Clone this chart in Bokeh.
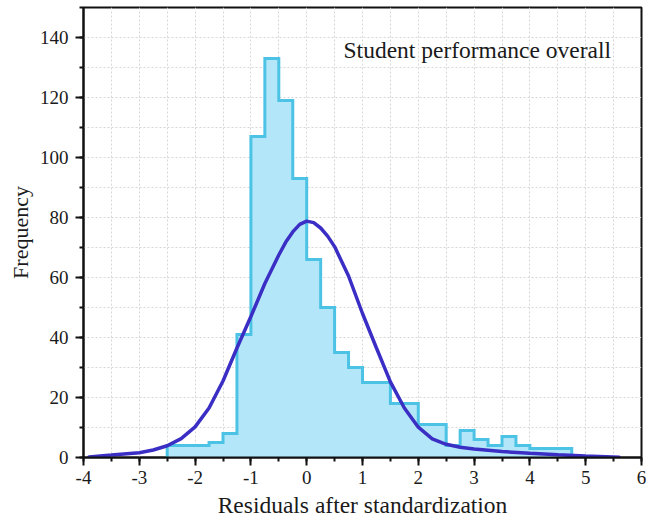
from bokeh.plotting import figure
from bokeh.models import SingleIntervalTicker, Label, Range1d, CustomJSTickFormatter, Title
from bokeh.embed import file_html
from bokeh.resources import INLINE

# Histogram bins (left edges, width 0.25) and counts
bin_left = [-2.5, -2.25, -2.0, -1.75, -1.5, -1.25, -1.0, -0.75, -0.5, -0.25,
            0.0, 0.25, 0.5, 0.75, 1.0, 1.25, 1.5, 1.75, 2.0, 2.25,
            2.5, 2.75, 3.0, 3.25, 3.5, 3.75, 4.0, 4.25, 4.5]
bin_width = 0.25
counts = [4, 4, 4, 5, 8, 41, 107, 133, 119, 93,
          66, 50, 35, 30, 25, 25, 18, 18, 11, 11,
          4, 9, 6, 4, 7, 4, 3, 3, 3]

# Fitted distribution curve
curve_x = [-3.9, -3.5, -3.0, -2.75, -2.5, -2.25, -2.0, -1.75, -1.5, -1.25,
           -1.0, -0.75, -0.5, -0.375, -0.25, -0.125, 0.0, 0.125, 0.25, 0.375,
           0.5, 0.75, 1.0, 1.25, 1.5, 1.75, 2.0, 2.25, 2.5, 2.75,
           3.0, 3.5, 4.0, 4.5, 5.0, 5.6]
curve_y = [0.2, 0.8, 1.6, 2.5, 3.9, 6.3, 10.2, 16.5, 25.5, 36.5,
           47.0, 58.0, 67.5, 71.8, 75.2, 77.7, 78.8, 78.3, 76.5, 73.8,
           70.3, 60.5, 48.0, 36.5, 25.2, 16.5, 10.1, 6.2, 4.4, 3.4,
           2.8, 2.0, 1.4, 0.9, 0.5, 0.1]

x_ticks_interval = 1
y_ticks_interval = 20
x_title = "Residuals after standardization"
y_title = "Frequency"
panel_title = "Student performance overall"

SERIF = "Liberation Serif"
TXT = "#1a1a1a"

p = figure(width=646, height=524, output_backend="svg", toolbar_location=None,
           x_range=Range1d(-4, 6), y_range=Range1d(0, 150),
           min_border_left=83, min_border_right=5, min_border_top=7, min_border_bottom=67)
p.background_fill_color = "white"
p.border_fill_color = "white"
p.outline_line_color = "#111111"
p.outline_line_width = 2

# outline polygon of the histogram built from the bins
hx = [bin_left[0]]
hy = [0]
for l, c in zip(bin_left, counts):
    hx += [l, l + bin_width]
    hy += [c, c]
hx.append(bin_left[-1] + bin_width)
hy.append(0)

p.patch(hx, hy, fill_color="#b3e6f8", line_color=None)
p.line(hx, hy, line_color="#4cc3e4", line_width=3, line_join="miter")
p.line(curve_x, curve_y, line_color="#3a2ec4", line_width=3.5, line_cap="round")

p.xaxis.ticker = SingleIntervalTicker(interval=x_ticks_interval, num_minor_ticks=2)
p.yaxis.ticker = SingleIntervalTicker(interval=y_ticks_interval, num_minor_ticks=2)
fmt = CustomJSTickFormatter(code="return tick.toString();")

for ax in (p.xaxis[0], p.yaxis[0]):
    ax.formatter = fmt
    ax.axis_line_color = "#111111"
    ax.axis_line_width = 2
    ax.major_tick_line_color = "#111111"
    ax.major_tick_line_width = 2
    ax.minor_tick_line_color = "#111111"
    ax.minor_tick_line_width = 2
    ax.major_tick_in = 0
    ax.major_tick_out = 8
    ax.minor_tick_in = 0
    ax.minor_tick_out = 4
    ax.major_label_text_font = SERIF
    ax.major_label_text_font_size = "19px"
    ax.major_label_text_color = TXT

p.xaxis.major_label_standoff = 5
p.yaxis.major_label_standoff = 7

for g in (p.xgrid[0], p.ygrid[0]):
    g.grid_line_color = None
    g.minor_grid_line_color = "#d6d6d6"
    g.minor_grid_line_dash = "2 2"
    g.minor_grid_line_width = 1

# axis titles in the side panels
p.add_layout(Title(text=x_title, align="center", standoff=7,
                   text_font=SERIF, text_font_size="23.5px", text_font_style="normal",
                   text_color=TXT), "below")
p.add_layout(Title(text=y_title, align="center", standoff=7,
                   text_font=SERIF, text_font_size="22px", text_font_style="normal",
                   text_color=TXT), "left")

p.add_layout(Label(x=0.66, y=136, text=panel_title,
                   text_font=SERIF, text_font_size="23.5px", text_color=TXT,
                   text_baseline="alphabetic"))

open("out.html", "w").write(file_html(p, INLINE))
